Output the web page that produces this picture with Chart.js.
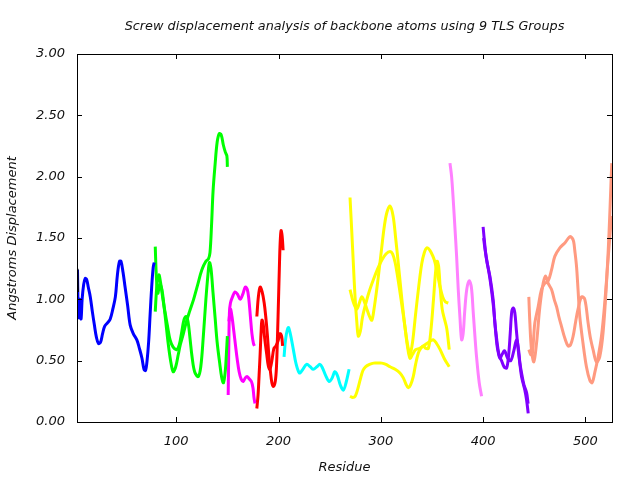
<!DOCTYPE html>
<html>
<head>
<meta charset="utf-8">
<script src="https://cdn.jsdelivr.net/npm/chart.js@4"></script>
<style>
  html, body { margin: 0; padding: 0; background: #fff; }
  #wrap { width: 640px; height: 480px; }
</style>
</head>
<body>
<div id="wrap"><canvas id="chart" width="640" height="480"></canvas></div>
<script>
// residue, displacement pairs, one array per trace
const blackA = [[3, 1.25], [3.2, 1.15], [3.4, 1.06]];
const blueA = [[3.5, 1.24], [4, 0.95], [4.5, 0.85], [5.5, 1.0], [6.2, 0.86], [7, 0.84], [8, 1.0], [9.5, 1.12], [11, 1.17], [12.5, 1.16], [14, 1.1], [16, 1.02], [18, 0.9], [20, 0.79], [22, 0.69], [24, 0.64], [26, 0.65], [28, 0.72], [30, 0.78], [33, 0.81], [35.5, 0.84], [38, 0.92], [40.5, 1.02], [42.5, 1.2], [44.5, 1.31], [46, 1.31], [48, 1.22], [50, 1.1], [52.5, 0.95], [55, 0.79], [58, 0.72], [61.5, 0.67], [64, 0.6], [66.5, 0.52], [68.5, 0.43], [70, 0.42], [71.5, 0.5], [73, 0.65], [74.5, 0.88], [76, 1.1], [77.5, 1.26], [78.5, 1.3]];
const greenA = [[79.5, 1.43], [80.5, 1.2], [82, 1.05], [84, 1.12], [86, 1.08], [88, 0.95], [90, 0.8], [92, 0.65], [94.5, 0.5], [97, 0.41], [99.5, 0.45], [102, 0.55], [104, 0.63], [107, 0.72], [110, 0.82], [113, 0.9], [117, 1.0], [121, 1.12], [125, 1.24], [129, 1.31], [131.5, 1.33], [133, 1.38], [134.5, 1.6], [136, 1.88], [138, 2.1], [140, 2.28], [142, 2.35], [144, 2.34], [146, 2.26], [148, 2.2], [149.5, 2.17], [150, 2.08]];
const greenB = [[79.5, 0.9], [81, 1.1], [83, 1.2], [85, 1.12], [87, 1.0], [89, 0.9], [91.5, 0.78], [94, 0.67], [97, 0.61], [100.5, 0.59], [103, 0.63], [105.5, 0.74], [107.5, 0.83], [109.5, 0.86], [111.5, 0.82], [113.5, 0.68], [115.5, 0.53], [118, 0.41], [121.5, 0.37], [124, 0.45], [126.5, 0.7], [129, 1.0], [131, 1.2], [132.5, 1.3], [134, 1.25], [136, 1.05], [138, 0.85], [140, 0.65], [142.5, 0.48], [144.5, 0.36], [146.2, 0.32], [148, 0.42], [149, 0.55], [150, 0.7]];
const magentaA = [[150.8, 0.22], [151.3, 0.55], [152, 0.89], [153, 0.97], [155, 1.02], [157.5, 1.06], [160, 1.04], [162.5, 1.0], [165, 1.04], [167.5, 1.1], [169.5, 1.08], [171, 1.0], [172.5, 0.86], [174, 0.72], [175.5, 0.64], [176.5, 0.62]];
const magentaB = [[151.5, 0.82], [153, 0.92], [154.5, 0.86], [156.3, 0.74], [158, 0.62], [159.5, 0.52], [161.5, 0.41], [163.5, 0.35], [165.5, 0.33], [167.5, 0.36], [169.5, 0.37], [171.5, 0.35], [173.5, 0.33], [175, 0.28], [176, 0.2], [177, 0.15]];
const redA = [[178.8, 0.86], [180.3, 1.02], [182, 1.1], [184, 1.06], [186, 0.97], [187.5, 0.86], [189, 0.72], [190.5, 0.55], [192, 0.42], [193.5, 0.32], [195, 0.29], [196.8, 0.33], [198, 0.45], [199, 0.7], [200, 1.0], [200.8, 1.25], [201.6, 1.46], [202.5, 1.56], [203.5, 1.52], [204.5, 1.4]];
const redB = [[178.8, 0.11], [180, 0.22], [181, 0.38], [182, 0.55], [183, 0.74], [183.8, 0.83], [185, 0.8], [186.5, 0.68], [188.5, 0.55], [190, 0.46], [191.5, 0.43], [193.5, 0.5], [195.5, 0.6], [197.5, 0.62], [199.5, 0.66], [201.5, 0.72], [203, 0.7], [204, 0.62]];
const cyanA = [[205.4, 0.53], [207, 0.68], [209.5, 0.77], [211.5, 0.72], [214.5, 0.59], [217, 0.48], [220.4, 0.4], [223, 0.42], [227.5, 0.47], [231, 0.45], [234, 0.43], [237.5, 0.45], [240.5, 0.47], [243, 0.44], [246, 0.38], [249.5, 0.33], [252.5, 0.36], [255, 0.41], [257.5, 0.38], [260.5, 0.3], [263.4, 0.26], [266, 0.32], [269, 0.43]];
const yellowA = [[269.9, 1.83], [271.5, 1.57], [273.1, 1.3], [274.8, 1.02], [276.5, 0.82], [278, 0.7], [280, 0.74], [282, 0.85], [284.5, 0.94], [288.5, 1.06], [292.7, 1.16], [297, 1.25], [301, 1.32], [305, 1.37], [309, 1.39], [311.5, 1.37], [314, 1.3], [316.5, 1.18], [318.7, 1.06], [321, 0.93], [323.5, 0.78], [326, 0.62], [328.5, 0.52], [331, 0.55], [334, 0.59], [338, 0.6], [341.5, 0.62], [345, 0.64], [348.5, 0.66], [351.5, 0.67], [354.5, 0.64], [358, 0.59], [362.5, 0.51], [366.9, 0.45]];
const yellowB = [[269.9, 1.08], [273, 0.98], [276.4, 0.92], [279, 0.97], [281.3, 1.02], [283.5, 0.99], [286, 0.93], [289, 0.86], [291.2, 0.83], [293.5, 0.93], [296, 1.08], [298.5, 1.25], [301, 1.43], [303.5, 1.6], [306, 1.71], [309, 1.76], [312, 1.68], [314.5, 1.5], [317, 1.3], [319.5, 1.09], [322, 0.89], [324.5, 0.72], [326.8, 0.6], [328.5, 0.55], [331, 0.65], [334, 0.88], [337, 1.1], [340, 1.29], [342.5, 1.38], [345, 1.42], [348, 1.4], [351, 1.35], [353, 1.3], [355.5, 1.2], [358, 1.1], [360.5, 1.02], [363, 0.98], [366, 0.97]];
const yellowC = [[269.9, 0.21], [272.5, 0.2], [275, 0.21], [277.5, 0.27], [280, 0.35], [282.5, 0.42], [285, 0.45], [289, 0.47], [293, 0.48], [297, 0.48], [301, 0.48], [305, 0.47], [309, 0.45], [314, 0.43], [318.7, 0.4], [322, 0.36], [324.5, 0.31], [326.8, 0.28], [329, 0.3], [331.7, 0.37], [334, 0.47], [336.6, 0.56], [339, 0.6], [341.5, 0.62], [344, 0.6], [346.5, 0.6], [349, 0.75], [351.5, 1.0], [353.5, 1.22], [355, 1.31], [356.5, 1.27], [358, 1.1], [360, 0.92], [362.5, 0.83], [364.5, 0.76], [366.9, 0.59]];
const violetA = [[367.6, 2.11], [369.2, 2.0], [370.8, 1.81], [372.4, 1.59], [374.1, 1.35], [375.7, 1.08], [377.3, 0.86], [379, 0.67], [380.5, 0.72], [382, 0.9], [384, 1.08], [386.4, 1.15], [388.5, 1.1], [390.3, 0.9], [392, 0.7], [393.6, 0.53], [396.2, 0.32], [398.5, 0.21]];
const purpleA = [[400, 1.59], [401, 1.5], [403.4, 1.32], [406.6, 1.19], [409.8, 1.0], [411.5, 0.81], [413.5, 0.66], [415.5, 0.55], [418, 0.5], [420.5, 0.45], [423, 0.44], [425, 0.55], [426.5, 0.72], [428, 0.9], [429.5, 0.93], [431, 0.89], [432.5, 0.75], [434.3, 0.59], [436, 0.47], [437.6, 0.37], [440.8, 0.26], [442.5, 0.18], [444.1, 0.07]];
const purpleB = [[400.5, 1.5], [402, 1.4], [404, 1.3], [407, 1.15], [410, 0.95], [412, 0.76], [413.5, 0.63], [415, 0.56], [416.5, 0.52], [418.5, 0.55], [421, 0.58], [424, 0.52], [427, 0.5], [430, 0.58], [432.7, 0.67], [434.5, 0.6], [436, 0.48], [438, 0.38], [440, 0.3], [442.5, 0.24], [444, 0.15]];
const salmonA = [[444.7, 1.02], [445.7, 0.81], [447.3, 0.59], [449.6, 0.49], [452.2, 0.64], [455.5, 0.94], [458.7, 1.13], [461, 1.19], [463.6, 1.13], [466.9, 1.08], [469.5, 1.0], [471.8, 0.94], [474, 0.86], [476.6, 0.78], [480, 0.68], [483.1, 0.62], [485.5, 0.63], [488, 0.7], [490.5, 0.82], [492.8, 0.92], [496.2, 1.02], [499.4, 1.0], [502.6, 0.81], [505, 0.68], [507.5, 0.59], [510.8, 0.49], [514, 0.53], [517.3, 0.73], [520.6, 1.13], [523.1, 1.54], [525, 1.95], [525.8, 2.11]];
const salmonB = [[444.7, 0.59], [446.5, 0.55], [448, 0.55], [449.5, 0.7], [450.6, 0.81], [453.8, 0.94], [457.1, 1.08], [460.3, 1.13], [463.6, 1.15], [466.9, 1.24], [470.1, 1.35], [475, 1.42], [479.9, 1.46], [484.7, 1.51], [487, 1.5], [488.5, 1.47], [489.6, 1.4], [491.3, 1.27], [492.8, 1.08], [494.5, 0.86], [497.7, 0.64], [501, 0.45], [504.3, 0.34], [506.5, 0.32], [509.1, 0.4], [512.4, 0.53], [515.7, 0.7], [518.9, 0.97], [522.1, 1.32], [525.5, 1.68]];

const traces = [blackA, blueA, greenA, greenB, magentaA, magentaB, redA, redB, cyanA,
  yellowA, yellowB, yellowC, violetA, purpleA, purpleB, salmonA, salmonB];
const traceColors = ['#000000', '#0000ff', '#00ff00', '#00ff00', '#ff00ff', '#ff00ff', '#ff0000', '#ff0000', '#00ffff',
  '#ffff00', '#ffff00', '#ffff00', '#ff80ff', '#8000ff', '#8000ff', '#ff9a80', '#ff9a80'];

const xTicks = [100, 200, 300, 400, 500];
const yTicks = [0, 0.5, 1, 1.5, 2, 2.5, 3];
const chartTitle = 'Screw displacement analysis of backbone atoms using 9 TLS Groups';

const FONT = 'DejaVu Sans';

// gnuplot style frame: border plus inward ticks on all four sides, title over the plot area
const framePlugin = {
  id: 'frame',
  afterDatasetsDraw(chart) {
    const { ctx, chartArea: a, scales: { x, y } } = chart;
    const len = 5;
    ctx.save();
    ctx.strokeStyle = '#000';
    ctx.lineWidth = 1;
    ctx.beginPath();
    xTicks.forEach(v => {
      const px = Math.round(x.getPixelForValue(v)) + 0.5;
      ctx.moveTo(px, a.bottom); ctx.lineTo(px, a.bottom - len);
      ctx.moveTo(px, a.top); ctx.lineTo(px, a.top + len);
    });
    yTicks.forEach(v => {
      const py = Math.round(y.getPixelForValue(v)) + 0.5;
      ctx.moveTo(a.left, py); ctx.lineTo(a.left + len, py);
      ctx.moveTo(a.right, py); ctx.lineTo(a.right - len, py);
    });
    ctx.stroke();
    ctx.strokeRect(Math.round(a.left) + 0.5, Math.round(a.top) + 0.5,
      Math.round(a.right - a.left), Math.round(a.bottom - a.top));

    ctx.fillStyle = '#111';
    ctx.font = 'italic 12.8px "' + FONT + '"';
    ctx.textAlign = 'center';
    ctx.textBaseline = 'middle';
    ctx.fillText(chartTitle, (a.left + a.right) / 2, 27);
    ctx.restore();
  }
};

new Chart(document.getElementById('chart'), {
  type: 'scatter',
  data: {
    datasets: traces.map((t, i) => ({
      data: t.map(p => ({ x: p[0], y: p[1] })),
      showLine: true,
      borderColor: traceColors[i],
      backgroundColor: traceColors[i],
      borderWidth: 3,
      pointRadius: 0,
      tension: 0.35
    }))
  },
  options: {
    responsive: false,
    animation: false,
    layout: { padding: { left: 0, right: 28, top: 54, bottom: 0 } },
    plugins: {
      legend: { display: false },
      tooltip: { enabled: false },
      title: { display: false }
    },
    scales: {
      x: {
        type: 'linear',
        min: 3,
        max: 526,
        afterBuildTicks: s => { s.ticks = xTicks.map(v => ({ value: v })); },
        afterFit: s => { s.height = 58; },
        grid: { display: false, drawTicks: false },
        border: { display: false },
        ticks: {
          color: '#111',
          padding: 12,
          maxRotation: 0,
          font: { family: FONT, size: 13, style: 'italic' }
        },
        title: {
          display: true,
          text: 'Residue',
          color: '#111',
          font: { family: FONT, size: 13, style: 'italic' },
          padding: { top: 0, bottom: 5 }
        }
      },
      y: {
        min: 0,
        max: 3,
        afterBuildTicks: s => { s.ticks = yTicks.map(v => ({ value: v })); },
        afterFit: s => { s.width = 77; },
        grid: { display: false, drawTicks: false },
        border: { display: false },
        ticks: {
          color: '#111',
          padding: 12,
          font: { family: FONT, size: 13, style: 'italic' },
          callback: v => Number(v).toFixed(2)
        },
        title: {
          display: true,
          text: 'Angstroms Displacement',
          color: '#111',
          font: { family: FONT, size: 13, style: 'italic' },
          padding: { top: 5, bottom: 0 }
        }
      }
    }
  },
  plugins: [framePlugin]
});
</script>
</body>
</html>
